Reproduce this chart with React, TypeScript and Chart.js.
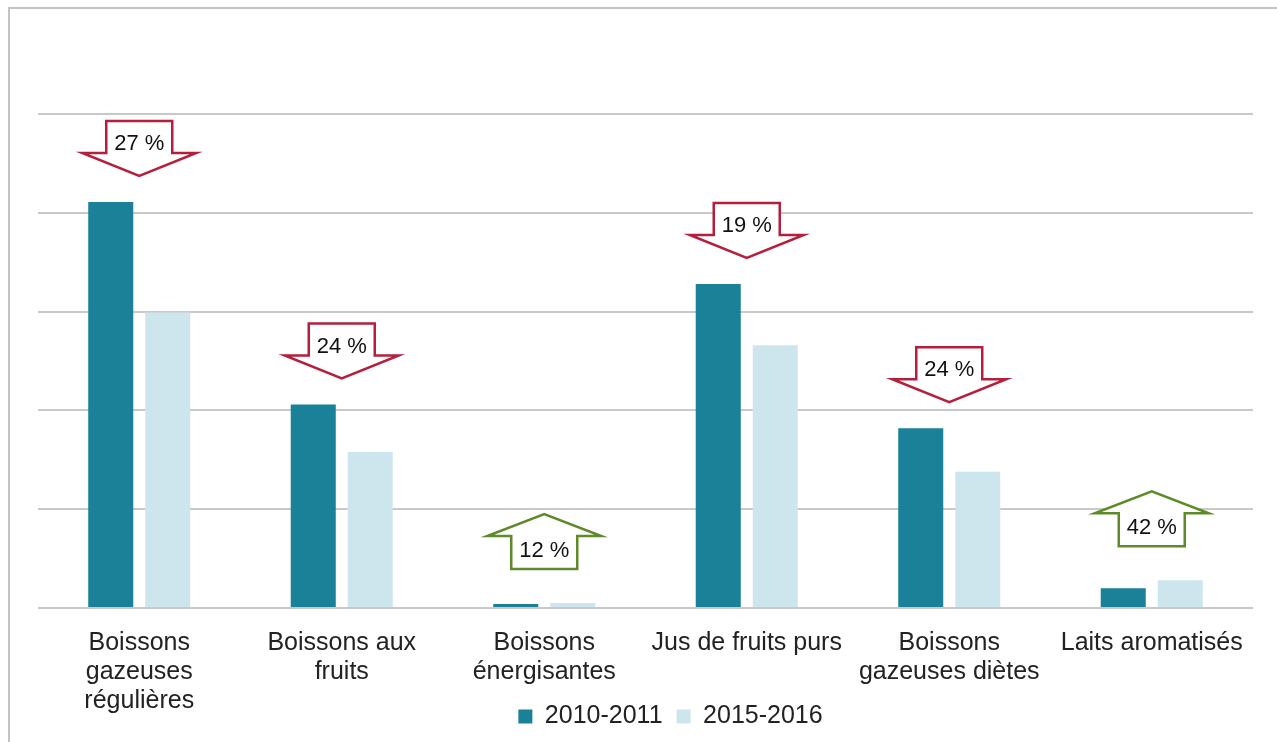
import React, { useEffect, useRef } from "react";
import { Chart, registerables } from "chart.js";

Chart.register(...registerables);

const categories: (string | string[])[] = [
  ["Boissons", "gazeuses", "régulières"],
  ["Boissons aux", "fruits"],
  ["Boissons", "énergisantes"],
  "Jus de fruits purs",
  ["Boissons", "gazeuses diètes"],
  "Laits aromatisés",
];
const series2010 = [4.11, 2.06, 0.04, 3.28, 1.82, 0.2];
const series2015 = [2.99, 1.58, 0.05, 2.66, 1.38, 0.28];
const changeLabels = ["27 %", "24 %", "12 %", "19 %", "24 %", "42 %"];
const changeDirections = ["down", "down", "up", "down", "down", "up"];

const RED = "#B51F3D";
const GREEN = "#5E8A2A";
const FONT = "'Liberation Sans', Arial, sans-serif";

const arrowPlugin = {
  id: "arrows",
  afterLayout(chart: any) {
    const lg = chart.legend;
    if (lg) {
      const dx = 25;
      const dy = -47;
      lg.left += dx;
      lg.right += dx;
      lg.top += dy;
      lg.bottom += dy;
    }
  },
  afterDatasetsDraw(chart: any) {
    const { ctx } = chart;
    const xs = chart.scales.x;
    const ys = chart.scales.y;
    ctx.save();
    for (let i = 0; i < categories.length; i++) {
      const cx = xs.getPixelForValue(i);
      const top = Math.min(ys.getPixelForValue(series2010[i]), ys.getPixelForValue(series2015[i]));
      const boxHalf = 33;
      const headHalf = 57;
      ctx.lineWidth = 2.5;
      ctx.lineJoin = "miter";
      ctx.beginPath();
      let textY: number;
      if (changeDirections[i] === "down") {
        const tip = top - 26;
        const base = tip - 23;
        const boxTop = tip - 55;
        ctx.moveTo(cx - boxHalf, boxTop);
        ctx.lineTo(cx + boxHalf, boxTop);
        ctx.lineTo(cx + boxHalf, base);
        ctx.lineTo(cx + headHalf, base);
        ctx.lineTo(cx, tip);
        ctx.lineTo(cx - headHalf, base);
        ctx.lineTo(cx - boxHalf, base);
        ctx.closePath();
        ctx.strokeStyle = RED;
        textY = tip - 32;
      } else {
        const boxBottom = top - 34;
        const tip = boxBottom - 55;
        const base = tip + 22;
        ctx.moveTo(cx - boxHalf, boxBottom);
        ctx.lineTo(cx + boxHalf, boxBottom);
        ctx.lineTo(cx + boxHalf, base);
        ctx.lineTo(cx + headHalf, base);
        ctx.lineTo(cx, tip);
        ctx.lineTo(cx - headHalf, base);
        ctx.lineTo(cx - boxHalf, base);
        ctx.closePath();
        ctx.strokeStyle = GREEN;
        textY = boxBottom - 18;
      }
      ctx.fillStyle = "#ffffff";
      ctx.fill();
      ctx.stroke();
      ctx.fillStyle = "#111111";
      ctx.font = "22px " + FONT;
      ctx.textAlign = "center";
      ctx.textBaseline = "middle";
      ctx.fillText(changeLabels[i], cx, textY);
    }
    ctx.restore();
  },
};

export default function App() {
  const ref = useRef<HTMLCanvasElement>(null);
  useEffect(() => {
    if (!ref.current) return;
    const chart = new Chart(ref.current, {
      type: "bar",
      data: {
        labels: categories,
        datasets: [
          {
            label: "2010-2011",
            data: series2010,
            backgroundColor: "#1B8199",
            categoryPercentage: 0.563,
            barPercentage: 0.79,
          },
          {
            label: "2015-2016",
            data: series2015,
            backgroundColor: "#CDE6EE",
            categoryPercentage: 0.563,
            barPercentage: 0.79,
          },
        ],
      },
      options: {
        animation: false,
        responsive: false,
        maintainAspectRatio: false,
        layout: { padding: { top: 114, left: 38, right: 24, bottom: -44 } },
        plugins: {
          legend: {
            position: "bottom",
            labels: {
              boxWidth: 14,
              boxHeight: 14,
              padding: 14,
              color: "#222222",
              font: { size: 25, family: FONT },
            },
          },
          tooltip: { enabled: false },
          title: { display: false },
        },
        scales: {
          x: {
            grid: { display: false, drawTicks: false },
            border: { display: false },
            ticks: {
              color: "#222222",
              padding: 21,
              maxRotation: 0,
              autoSkip: false,
              font: { size: 25, family: FONT, lineHeight: 1.16 },
            },
          },
          y: {
            min: 0,
            max: 5,
            ticks: { display: false, stepSize: 1 },
            grid: { color: "#C9C9C9", lineWidth: 2, drawTicks: false },
            border: { display: false },
          },
        },
      },
      plugins: [arrowPlugin],
    });
    return () => chart.destroy();
  }, []);
  return (
    <div style={{ position: "fixed", left: 0, top: 0, width: 1277, height: 742, overflow: "hidden", background: "#fff" }}>
      <canvas ref={ref} width={1277} height={742} style={{ position: "absolute", left: 0, top: 0, width: 1277, height: 742 }} />
      <div
        style={{
          position: "absolute",
          left: 8,
          top: 7,
          width: 1400,
          height: 900,
          borderLeft: "2px solid #C4C4C4",
          borderTop: "2px solid #C4C4C4",
          pointerEvents: "none",
        }}
      />
    </div>
  );
}
